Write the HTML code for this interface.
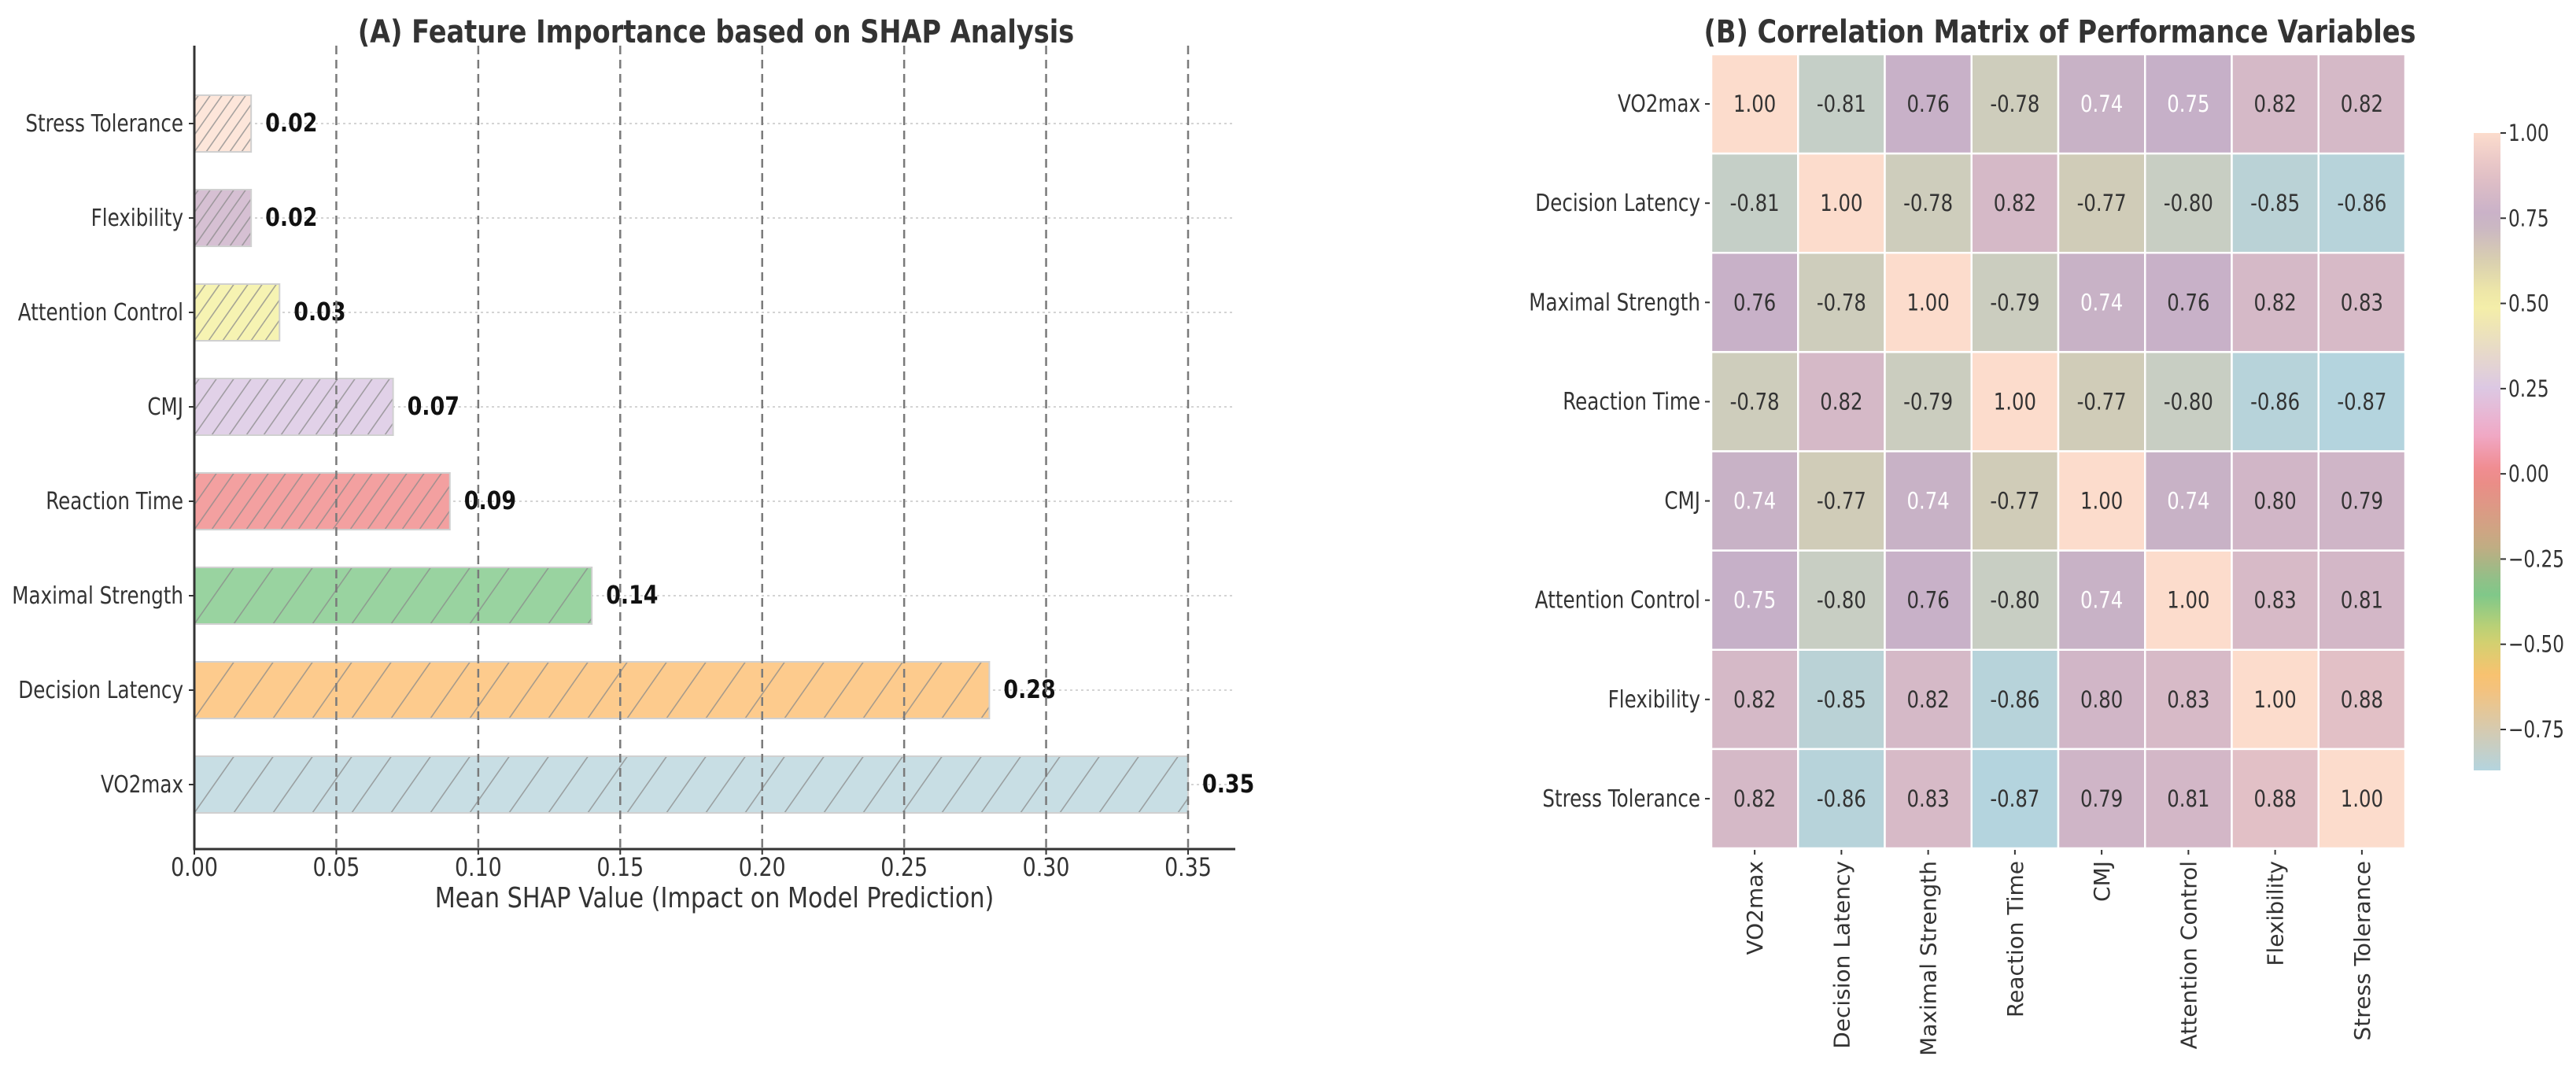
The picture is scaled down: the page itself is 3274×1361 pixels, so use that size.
<!DOCTYPE html>
<html><head><meta charset="utf-8"><style>
html,body{margin:0;padding:0;background:#fff;width:3274px;height:1361px;overflow:hidden}
svg{display:block}
</style></head><body>
<svg id="chart" width="3274" height="1361" xmlns="http://www.w3.org/2000/svg" font-family="'DejaVu Sans','Liberation Sans',sans-serif">
<defs id="defs"></defs>
<g id="left"></g>
<g id="right"></g>
</svg>
<script>
// ---- Data: SHAP bar chart ----
const features = ["VO2max","Decision Latency","Maximal Strength","Reaction Time","CMJ","Attention Control","Flexibility","Stress Tolerance"];
const shapValues = [0.35,0.28,0.14,0.09,0.07,0.03,0.02,0.02];
const shapTicks = [0,0.05,0.10,0.15,0.20,0.25,0.30,0.35];
// ---- Data: correlation matrix ----
const corrLabels = ["VO2max","Decision Latency","Maximal Strength","Reaction Time","CMJ","Attention Control","Flexibility","Stress Tolerance"];
const corrRow0 = [1.00,-0.81,0.76,-0.78,0.74,0.75,0.82,0.82];
const corrRow1 = [-0.81,1.00,-0.78,0.82,-0.77,-0.80,-0.85,-0.86];
const corrRow2 = [0.76,-0.78,1.00,-0.79,0.74,0.76,0.82,0.83];
const corrRow3 = [-0.78,0.82,-0.79,1.00,-0.77,-0.80,-0.86,-0.87];
const corrRow4 = [0.74,-0.77,0.74,-0.77,1.00,0.74,0.80,0.79];
const corrRow5 = [0.75,-0.80,0.76,-0.80,0.74,1.00,0.83,0.81];
const corrRow6 = [0.82,-0.85,0.82,-0.86,0.80,0.83,1.00,0.88];
const corrRow7 = [0.82,-0.86,0.83,-0.87,0.79,0.81,0.88,1.00];
const corrMatrix = [corrRow0,corrRow1,corrRow2,corrRow3,corrRow4,corrRow5,corrRow6,corrRow7];
const cbarTicks = [1.00,0.75,0.50,0.25,0.00,-0.25,-0.50,-0.75];

const NS="http://www.w3.org/2000/svg";
const SQ=0.84; // horizontal condensing of text
function mk(tag,attrs,parent,text){const e=document.createElementNS(NS,tag);for(const k in attrs)e.setAttribute(k,attrs[k]);if(text!==undefined)e.textContent=text;parent.appendChild(e);return e;}
function ctext(x,y,attrs,parent,text,sq){
  const a=Object.assign({x:0,y:0,transform:'translate('+x+','+y+') scale('+(sq||SQ)+',1)'},attrs);
  return mk('text',a,parent,text);
}
const defs=document.getElementById('defs');
const L=document.getElementById('left');
const R=document.getElementById('right');

// ---------- Left chart ----------
const barColors=["#c8dee4","#fdcb8d","#99d3a0","#f3a0a0","#e1d1e8","#f6f3b2","#d6c0d3","#fde6da"];
const hatchGap=[50,50,50,22,22,18,15,15];
const x0=247, xUnit=(1510-247)/0.35, axisRight=1570, yBottom=1079, yTop=58;
const bottomCenter=997, pitch=120, barH=72;
const xs=v=>x0+v*xUnit;
const ys=i=>bottomCenter-i*pitch;

const titleA=ctext(910,54,{'text-anchor':'middle','font-size':40,'font-weight':'bold',fill:'#333'},L,'(A) Feature Importance based on SHAP Analysis');



features.forEach((f,i)=>{
  const g=mk('line',{x1:x0,x2:axisRight,y1:ys(i),y2:ys(i),stroke:'#d4d4d4','stroke-width':2,'stroke-dasharray':'3,4'},L);
  
  
});
features.forEach((f,i)=>{
  const pid='hatch'+i;
  const hg=hatchGap[i];
  const p=mk('pattern',{id:pid,patternUnits:'userSpaceOnUse',width:hg,height:barH,x:x0,y:ys(i)-barH/2},defs);
  mk('rect',{x:0,y:0,width:hg,height:barH,fill:barColors[i]},p);
  for(let k=-3;k<=1;k++){
    mk('line',{x1:k*hg,y1:barH,x2:k*hg+barH*0.7,y2:0,stroke:'#8a8a8a','stroke-width':1.6,'stroke-opacity':0.75},p);
  }
  const b=mk('rect',{x:x0,y:ys(i)-barH/2,width:xs(shapValues[i])-x0,height:barH,fill:'url(#'+pid+')',stroke:'#d0d0d0','stroke-width':2},L);
  
  
  const t=ctext(xs(shapValues[i])+18,ys(i)+10,{'font-size':32,'font-weight':'bold',fill:'#111'},L,shapValues[i].toFixed(2));
  
  
  const yl=ctext(x0-14,ys(i)+10,{'text-anchor':'end','font-size':30,fill:'#333'},L,f,0.82);
  
  
  mk('line',{x1:x0-7,x2:x0,y1:ys(i),y2:ys(i),stroke:'#333','stroke-width':2},L);
});
shapTicks.forEach(v=>{
  if(v>0){
    const g=mk('line',{x1:xs(v),x2:xs(v),y1:yTop,y2:yBottom,stroke:'#7a7a7a','stroke-width':2.5,'stroke-dasharray':'11,7'},L);
    
    
  }
  mk('line',{x1:xs(v),x2:xs(v),y1:yBottom,y2:yBottom+7,stroke:'#333','stroke-width':2},L);
  const t=ctext(xs(v),yBottom+34,{'text-anchor':'middle','font-size':32,fill:'#333'},L,v.toFixed(2));
  
  
});
const axesPath=mk('path',{d:'M'+x0+','+yTop+' V'+yBottom+' H'+axisRight,fill:'none',stroke:'#333','stroke-width':3},L);


const xTitle=ctext(908,1153,{'text-anchor':'middle','font-size':36,fill:'#333'},L,'Mean SHAP Value (Impact on Model Prediction)');



// ---------- Right heatmap ----------
const vmin=-0.87, vmax=1.0;
const cmapStops=[[-0.87,[180,212,222]],[-0.75,[214,202,176]],[-0.6,[252,192,112]],[-0.48,[205,210,112]],[-0.35,[124,200,138]],[-0.2,[200,170,130]],[0,[240,136,136]],[0.12,[240,170,200]],[0.25,[220,200,228]],[0.5,[245,240,165]],[0.62,[218,208,175]],[0.75,[198,176,200]],[0.88,[226,192,198]],[1.0,[252,220,204]]];
function cmap(v){
  for(let k=0;k<cmapStops.length-1;k++){
    const a=cmapStops[k],b=cmapStops[k+1];
    if(v<=b[0]){const t=Math.max(0,(v-a[0])/(b[0]-a[0]));return 'rgb('+a[1].map((c,j)=>Math.round(c+(b[1][j]-c)*t)).join(',')+')';}
  }
  return 'rgb(252,220,204)';
}
const hx0=2175, hy0=69, cw=(3057-2175)/8, ch=(1078-69)/8;
const titleB=ctext(2618,54,{'text-anchor':'middle','font-size':40,'font-weight':'bold',fill:'#333'},R,'(B) Correlation Matrix of Performance Variables');


corrMatrix.forEach((row,r)=>{
  row.forEach((v,c)=>{
    const cell=mk('rect',{x:hx0+c*cw,y:hy0+r*ch,width:cw,height:ch,fill:cmap(v),stroke:'#fff','stroke-width':2.5},R);
    
    
    const light=(v>0&&v<0.755);
    const t=ctext(hx0+(c+0.5)*cw,hy0+(r+0.5)*ch+10,{'text-anchor':'middle','font-size':29,fill:light?'#fff':'#333'},R,v.toFixed(2));
    
    
  });
});
corrLabels.forEach((lab,i)=>{
  const rowY=hy0+(i+0.5)*ch;
  mk('line',{x1:hx0-8,x2:hx0-2,y1:rowY,y2:rowY,stroke:'#333','stroke-width':2},R);
  const yl=ctext(hx0-14,rowY+10,{'text-anchor':'end','font-size':30,fill:'#333'},R,lab,0.82);
  
  
  const colX=hx0+(i+0.5)*cw;
  mk('line',{x1:colX,x2:colX,y1:hy0+8*ch+2,y2:hy0+8*ch+8,stroke:'#333','stroke-width':2},R);
  const xl=mk('text',{x:0,y:0,'text-anchor':'end','font-size':28,fill:'#333',transform:'translate('+(colX+10)+','+(hy0+8*ch+16)+') rotate(-90)'},R,lab);
  
  
});
// colorbar
const cbX=3144, cbW=34, cbY1=169, cbY0=927, cbStep=(cbY0-cbY1)/1.75;
function cbPos(v){return cbY1+(vmax-v)*cbStep;}
const grad=mk('linearGradient',{id:'cbgrad',x1:0,y1:1,x2:0,y2:0},defs);
for(let k=0;k<=40;k++){const v=vmin+(vmax-vmin)*k/40;mk('stop',{offset:(k/40),'stop-color':cmap(v)},grad);}
const cbRect=mk('rect',{x:cbX,y:cbPos(vmax),width:cbW,height:cbPos(vmin)-cbPos(vmax),fill:'url(#cbgrad)'},R);


for(let k=0;k<cbarTicks.length;k++){
  const v=cbarTicks[k];
  const py=cbPos(v);
  mk('line',{x1:cbX+cbW,x2:cbX+cbW+7,y1:py,y2:py,stroke:'#333','stroke-width':2},R);
  const lbl=(v<0?'\u2212':'')+Math.abs(v).toFixed(2);
  const t=ctext(cbX+cbW+10,py+10,{'font-size':29,fill:'#333'},R,lbl,0.8);
  
  
}
</script>
</body></html>
